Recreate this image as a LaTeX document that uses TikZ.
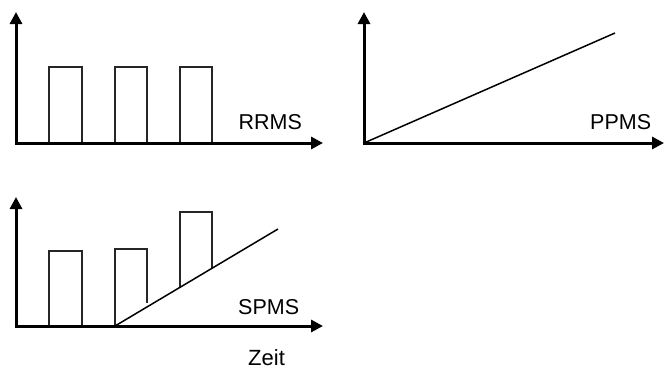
\documentclass[tikz,border=0pt]{standalone}
\usepackage{fontspec}
\setmainfont{Liberation Sans}
\usetikzlibrary{arrows.meta}
\begin{document}
\begin{tikzpicture}[x=1pt,y=-1pt,
  axis/.style={line width=3pt,-{Triangle[length=12pt,width=12pt]}},
  bar/.style={line width=1.5pt,draw=black!85},
  ramp/.style={line width=1.5pt},
  lbl/.style={inner sep=0pt,anchor=base west,font=\fontsize{21.5}{21.5}\selectfont}]
\useasboundingbox (0,0) rectangle (664,370);
% Panel 1: RRMS
\coordinate (o1) at (16,143);
\coordinate (y1) at (16,12);
\coordinate (x1) at (323,143);
\draw[bar] (49,143) -- (49,67) -- (82,67) -- (82,143);
\draw[bar] (115,143) -- (115,67) -- (147,67) -- (147,143);
\draw[bar] (180,143) -- (180,67) -- (212,67) -- (212,143);
\draw[axis] ([yshift=1.5pt]o1) -- (y1);
\draw[axis] ([xshift=-1.5pt]o1) -- (x1);
\node[lbl] (t1) at (238.5,129.5) {RRMS};
% Panel 2: PPMS
\coordinate (o2) at (364,143);
\coordinate (y2) at (364,12);
\coordinate (x2) at (664,143);
\coordinate (r2) at (615,33);
\draw[ramp] (o2) -- (r2);
\draw[axis] ([yshift=1.5pt]o2) -- (y2);
\draw[axis] ([xshift=-1.5pt]o2) -- (x2);
\node[lbl] (t2) at (590,129.5) {PPMS};
% Panel 3: SPMS
\coordinate (o3) at (16,326);
\coordinate (y3) at (16,197);
\coordinate (x3) at (323,326);
\coordinate (s3) at (115,326);
\coordinate (r3) at (278,229);
\draw[bar] (49,326) -- (49,251) -- (82,251) -- (82,326);
\draw[bar] (115,326) -- (115,249) -- (147,249) -- (147,303);
\draw[bar] (180,287) -- (180,212) -- (212,212) -- (212,268);
\draw[ramp] (s3) -- (r3);
\draw[axis] ([yshift=1.5pt]o3) -- (y3);
\draw[axis] ([xshift=-1.5pt]o3) -- (x3);
\node[lbl] (t3) at (238,314) {SPMS};
\node[lbl,font=\fontsize{22}{22}\selectfont] (t4) at (248,365.5) {Zeit};
\end{tikzpicture}
\end{document}
